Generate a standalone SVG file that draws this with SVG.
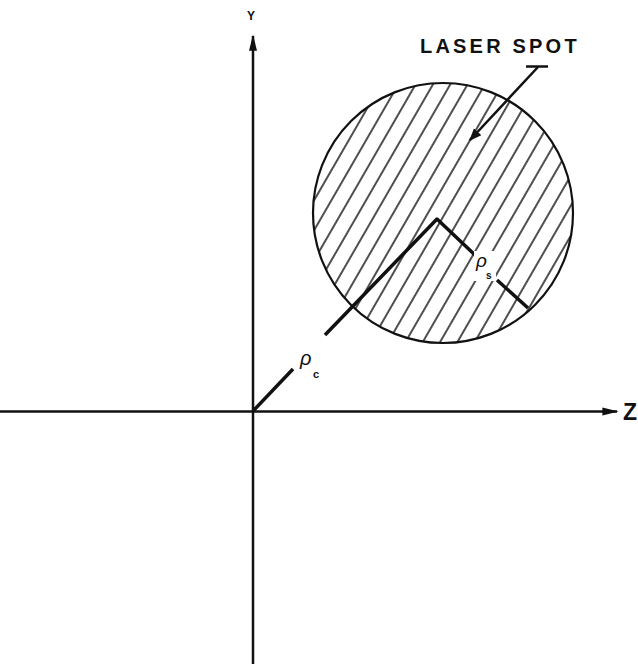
<svg xmlns="http://www.w3.org/2000/svg" width="638" height="664" viewBox="0 0 638 664">
  <style>
    .axis { stroke: #111; stroke-width: 2.5; fill: none; }
    .vec { stroke: #111; stroke-width: 3.5; fill: none; stroke-linejoin: round; }
    .lbl { font-family: "Liberation Sans", Arial, sans-serif; fill: #111; }
  </style>
  <defs>
    <pattern id="hatch" patternUnits="userSpaceOnUse" width="15" height="15" patternTransform="translate(443 213) rotate(30)">
      <line x1="2" y1="-1" x2="2" y2="16" stroke="#222" stroke-width="1.6"/>
    </pattern>
    <marker id="arr" viewBox="0 0 10 10" refX="9" refY="5" markerWidth="6.5" markerHeight="4" orient="auto" markerUnits="strokeWidth" preserveAspectRatio="none">
      <path d="M0,1 L10,5 L0,9 Z" fill="#111"/>
    </marker>
    <marker id="arrSmall" viewBox="0 0 10 10" refX="9" refY="5" markerWidth="5" markerHeight="5" orient="auto" markerUnits="strokeWidth">
      <path d="M0,1 L10,5 L0,9 Z" fill="#111"/>
    </marker>
  </defs>
  <rect width="638" height="664" fill="#fff"/>

  <g id="laser-spot">
    <circle cx="443" cy="213" r="130" fill="url(#hatch)" stroke="#111" stroke-width="2.2"/>
  </g>

  <g id="connectors">
    <line id="y-axis" class="axis" x1="253" y1="664" x2="253" y2="36" marker-end="url(#arr)"/>
    <line id="z-axis" class="axis" x1="0" y1="411.5" x2="617" y2="411.5" marker-end="url(#arr)"/>
    <polyline id="rho-c-a" class="vec" points="253,411 293,369"/>
    <polyline id="rho-c-b" class="vec" points="325,335 437,219 475,255"/>
    <line id="rho-s-b" class="vec" x1="497" y1="280" x2="528" y2="308"/>
    <line id="leader-tick" stroke="#111" stroke-width="2.5" x1="526" y1="66.5" x2="548" y2="66.5"/>
    <line id="leader" stroke="#111" stroke-width="2.5" x1="538" y1="67" x2="470" y2="140" marker-end="url(#arrSmall)"/>
  </g>

  <g id="label-y"><text class="lbl" x="251" y="19.5" font-size="12" font-weight="bold" text-anchor="middle">Y</text></g>
  <g id="label-z"><text class="lbl" x="630" y="420" font-size="23" font-weight="bold" text-anchor="middle">Z</text></g>
  <g id="label-laser"><text class="lbl" x="420" y="53" font-size="20" font-weight="bold" letter-spacing="3.2">LASER SPOT</text></g>
  <g id="label-rho-c">
    <text class="lbl" x="300" y="365" font-size="20" font-style="italic">ρ</text>
    <text class="lbl" x="313" y="378" font-size="11" font-weight="bold">c</text>
  </g>
  <g id="label-rho-s">
    <rect x="474" y="251" width="22" height="30" fill="#fff"/>
    <text class="lbl" x="476" y="267" font-size="19" font-style="italic">ρ</text>
    <text class="lbl" x="486" y="279" font-size="10" font-weight="bold">s</text>
  </g>
</svg>
